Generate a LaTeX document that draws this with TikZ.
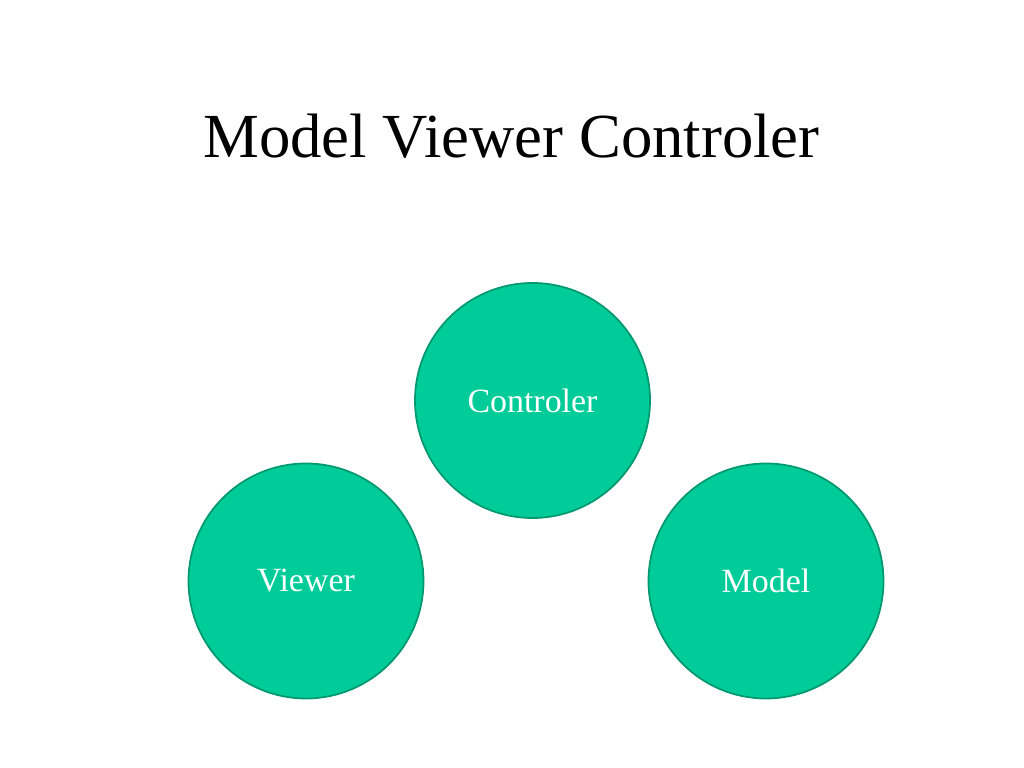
\documentclass[tikz,border=0pt]{standalone}
\usepackage{fontspec}
\setmainfont{Liberation Serif}
\usepackage{tikz}
\definecolor{mvcfill}{HTML}{00CC99}
\definecolor{mvcline}{HTML}{00996F}
\tikzset{mvccircle/.style={circle, draw=mvcline, line width=1pt, fill=mvcfill, text=white, minimum size=4.7cm, inner sep=0pt, font=\fontsize{19.3}{22}\selectfont}}

\begin{document}
\begin{tikzpicture}[scale = 1]
\useasboundingbox (0,0) rectangle (20.48,15.36);
\node[font=\fontsize{35.7}{40}\selectfont] (title) at (10.23, 12.64) {Model Viewer Controler};
\node[mvccircle] (controler) at (10.65, 7.35) {Controler};
\node[mvccircle] (viewer) at (6.12, 3.74) {Viewer};
\node[mvccircle] (model) at (15.32, 3.74) {Model};
\end{tikzpicture}
\end{document}
